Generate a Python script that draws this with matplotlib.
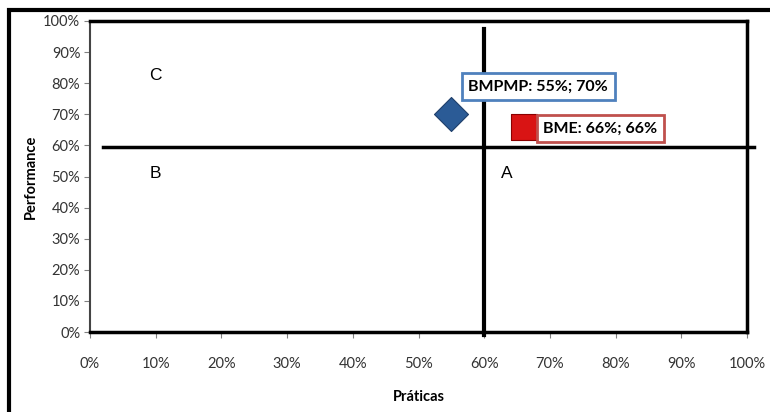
import matplotlib
matplotlib.use("Agg")
import matplotlib.pyplot as plt
from matplotlib.patches import Rectangle
from matplotlib.ticker import PercentFormatter

# Positions of the two units (práticas, performance), in %
names = ["BMPMP", "BME"]
praticas = [55, 66]
performance = [70, 66]
markers = ["D", "s"]
face_colors = ["#2B5B96", "#D91414"]
box_colors = ["#4F81BD", "#C0504D"]
label_offsets = [(2.6, 9.0), (3.0, -0.6)]

# Quadrant cut-off lines
cut_x = 60
cut_y = 59.5

quadrants = [("C", 10, 82.5), ("B", 10, 51), ("A", 63.5, 51)]
ticks = list(range(0, 101, 10))

plt.rcParams["font.family"] = ["Lato", "DejaVu Sans"]

fig = plt.figure(figsize=(7.7, 4.12), dpi=100)
ax = fig.add_axes([90 / 770, 80 / 412, 657 / 770, 311 / 412])

# outer frame around the whole chart
fig.patches.append(Rectangle((9 / 770, -0.05), 1.2, 402 / 412 + 0.05,
                             transform=fig.transFigure, fill=False,
                             edgecolor="black", linewidth=3, zorder=0))

ax.set_xlim(0, 100)
ax.set_ylim(0, 100)
ax.set_xticks(ticks)
ax.set_yticks(ticks)
ax.xaxis.set_major_formatter(PercentFormatter(decimals=0))
ax.yaxis.set_major_formatter(PercentFormatter(decimals=0))
ax.tick_params(length=4, color="#808080", labelsize=10.5, labelcolor="#333333")
ax.tick_params(axis="x", pad=14)
ax.tick_params(axis="y", pad=3)

for side in ["top", "right", "bottom"]:
    ax.spines[side].set_linewidth(2.5)
    ax.spines[side].set_color("black")
ax.spines["left"].set_linewidth(1.5)
ax.spines["left"].set_color("#444444")

# quadrant dividers
ax.plot([2, 101], [cut_y, cut_y], color="black", linewidth=2.5, clip_on=False)
ax.plot([cut_x, cut_x], [-1, 97.5], color="black", linewidth=3, clip_on=False)

for letter, qx, qy in quadrants:
    ax.text(qx, qy, letter, fontsize=12.5, family="Liberation Sans",
            ha="center", va="center")

for name, px, py, m, fc, bc, (dx, dy) in zip(names, praticas, performance,
                                             markers, face_colors, box_colors,
                                             label_offsets):
    ax.scatter(px, py, marker=m, s=300 if m == "D" else 330, color=fc,
               edgecolor="#1F3F6A" if m == "D" else "#8B0000",
               linewidth=0.8, zorder=5)
    ax.text(px + dx, py + dy, f"{name}: {px}%; {py}%", fontsize=11.5,
            fontweight="bold", ha="left", va="center", zorder=6,
            bbox=dict(boxstyle="square,pad=0.4", facecolor="white",
                      edgecolor=bc, linewidth=2))

ax.set_xlabel("Práticas", fontsize=10.5, fontweight="bold", labelpad=14)
ax.set_ylabel("Performance", fontsize=10.5, fontweight="bold", labelpad=4)

fig.savefig("out.png", dpi=100)
